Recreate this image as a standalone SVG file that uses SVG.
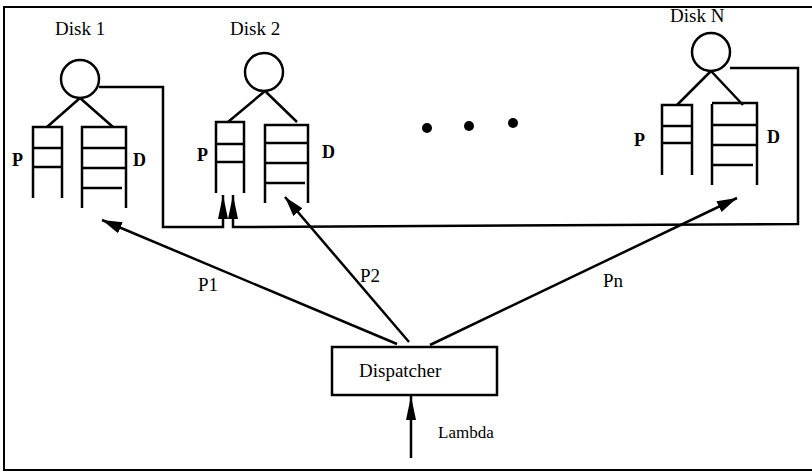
<svg xmlns="http://www.w3.org/2000/svg" width="812" height="473" viewBox="0 0 812 473">
  <defs>
    <marker id="head" viewBox="0 0 20 12" refX="20" refY="6" markerWidth="20" markerHeight="12" markerUnits="userSpaceOnUse" orient="auto">
      <path d="M0,0 L20,6 L0,12 Z" fill="#000"/>
    </marker>
    <marker id="feedHead" viewBox="0 0 24 10" refX="24" refY="5" markerWidth="24" markerHeight="10" markerUnits="userSpaceOnUse" orient="auto">
      <path d="M0,0 L24,5 L0,10 Z" fill="#000"/>
    </marker>
  </defs>
  <style>
    text { font-family: "Liberation Serif", "Times New Roman", serif; fill: #000; }
    .title { font-size: 19px; }
    .lbl { font-size: 19px; }
    .small { font-size: 17px; }
    .q { font-size: 18px; font-weight: bold; }
    .ln { fill: none; stroke: #000; stroke-width: 2.5; }
    .qline { fill: none; stroke: #000; stroke-width: 2.5; }
    .conn { fill: none; stroke: #000; stroke-width: 2.5; }
  </style>

  <rect width="812" height="473" fill="#fff"/>
  <!-- outer frame (right side runs past the edge) -->
  <rect x="4" y="7" width="830" height="463" fill="none" stroke="#000" stroke-width="2"/>

  <g id="disk1">
    <text class="title" x="55" y="35">Disk 1</text>
    <circle class="ln" cx="80" cy="79" r="19"/>
    <path class="ln" d="M80,98 L47,127 M80,98 L113,127"/>
    <!-- P queue -->
    <path class="qline" d="M33,198 V127 H62 V198 M33,148 H62 M33,167 H62"/>
    <!-- D queue -->
    <path class="qline" d="M82,208 V127 H126 V208 M82,148 H126 M82,168 H126 M82,188 H122"/>
    <text class="q" x="12" y="166">P</text>
    <text class="q" x="133" y="166">D</text>
  </g>

  <g id="disk2">
    <text class="title" x="230" y="35">Disk 2</text>
    <circle class="ln" cx="264" cy="72" r="19"/>
    <path class="ln" d="M265,91 L228,122 M265,91 L297,122"/>
    <path class="qline" d="M216,193 V122 H244 V193 M216,144 H244 M216,162 H244"/>
    <path class="qline" d="M265,203 V125 H308 V203 M265,143 H308 M265,163 H308 M265,183 H305"/>
    <text class="q" x="197" y="161">P</text>
    <text class="q" x="322" y="158">D</text>
  </g>

  <g id="diskN">
    <text class="title" x="670" y="22">Disk N</text>
    <circle class="ln" cx="711" cy="52" r="19"/>
    <path class="ln" d="M711,71 L677,105 M711,71 L743,105"/>
    <path class="qline" d="M662,175 V105 H692 V175 M662,126 H692 M662,143 H692"/>
    <path class="qline" d="M712,185 V104 M712,103 H757 V185 M712,125 H757 M712,145 H757 M712,165 H753"/>
    <text class="q" x="634" y="146">P</text>
    <text class="q" x="767" y="143">D</text>
  </g>

  <g id="ellipsis">
    <circle cx="427" cy="128" r="5" fill="#000"/>
    <circle cx="469" cy="126" r="5" fill="#000"/>
    <circle cx="513" cy="123" r="5" fill="#000"/>
  </g>

  <g id="dispatcher">
    <rect x="332" y="347" width="165" height="48" fill="#fff" stroke="#000" stroke-width="2.5"/>
    <text class="title" x="359" y="377">Dispatcher</text>
  </g>

  <g id="connectors">
    <!-- routing from the dispatcher to each disk -->
    <path class="conn" d="M397,344 L102,220" marker-end="url(#head)"/>
    <path class="conn" d="M409,342 L285,197" marker-end="url(#head)"/>
    <path class="conn" d="M430,345 L737,198" marker-end="url(#head)"/>
    <!-- arrival stream -->
    <path class="conn" d="M411,458 L411,396" marker-end="url(#feedHead)"/>
    <!-- feedback from disk 1 and disk N into the P queue of disk 2 -->
    <path class="conn" d="M99,87 H163 V227 H223 V195" marker-end="url(#feedHead)"/>
    <path class="conn" d="M730,68 H798 V224 L233,227 V195" marker-end="url(#feedHead)"/>
    <text class="lbl" x="198" y="291">P1</text>
    <text class="lbl" x="360" y="282">P2</text>
    <text class="lbl" x="603" y="287">Pn</text>
    <text class="small" x="438" y="438">Lambda</text>
  </g>
</svg>
